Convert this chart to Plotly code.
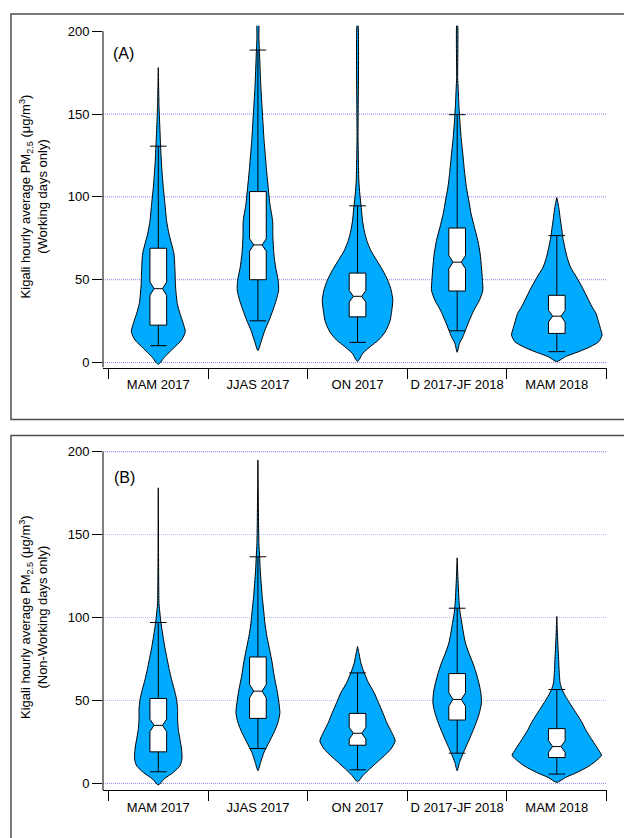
import plotly.graph_objects as go

# ---------------- data ----------------
categories = ["MAM 2017", "JJAS 2017", "ON 2017", "D 2017-JF 2018", "MAM 2018"]
y_ticks = [0, 50, 100, 150, 200]

# Panel A (working days) box statistics
a_q1 = [22.6, 50.0, 27.6, 43.2, 17.6]
a_median = [44.6, 71.0, 40.0, 60.6, 28.0]
a_q3 = [69.0, 103.2, 54.0, 81.2, 40.6]
a_lower = [10.2, 25.2, 12.2, 19.2, 6.6]
a_upper = [130.6, 188.6, 94.6, 149.6, 76.6]
a_notch = [4.0, 3.7, 3.5, 4.0, 3.5]

# Panel B (non-working days) box statistics
b_q1 = [19.0, 39.2, 23.0, 38.2, 15.6]
b_median = [35.0, 55.6, 30.2, 50.6, 22.2]
b_q3 = [51.2, 76.2, 42.2, 66.2, 33.0]
b_lower = [7.0, 21.0, 8.2, 18.2, 5.6]
b_upper = [97.0, 136.6, 66.6, 105.6, 56.6]
b_notch = [3.7, 4.0, 3.5, 4.0, 3.5]

# Violin density profiles (level, relative density)
a_mam17_y = [-1, 3.6, 8.6, 13.6, 18.6, 23.6, 29.6, 35.6, 45.6, 55.6, 65.6, 71.6, 77.6, 85.6, 95.6, 105.6, 115.6, 125.6, 135.6, 145.6, 155.6, 178]
a_mam17_d = [0, 6.7, 15, 23.3, 27, 25, 21.7, 19, 17.3, 16.7, 15.7, 13.3, 10.7, 8.3, 6.7, 5, 3.7, 2.7, 2, 1.3, 0.7, 0]
a_jjas17_y = [7.2, 13.6, 19.6, 25.2, 31.6, 37.6, 43.6, 49.6, 57.6, 65.6, 75.6, 85.6, 95.6, 105.6, 115.6, 125.6, 135.6, 145.6, 155.6, 165.6, 175.6, 185.6, 195.6, 205]
a_jjas17_d = [0, 3.7, 7, 11, 15, 18.3, 20.7, 20.3, 17.7, 16, 15, 14.7, 12, 10.3, 8.7, 7.3, 6, 5, 4, 3, 2.3, 1.7, 1, 0.7]
a_on17_y = [0.6, 5.6, 9.6, 13.6, 17.6, 21.6, 25.6, 31.6, 37.6, 43.6, 49.6, 55.6, 61.6, 67.6, 73.6, 79.6, 85.6, 93.6, 101.6, 109.6, 117.6, 135.6, 205]
a_on17_d = [0, 5.3, 12.7, 21, 26.7, 30.3, 32.7, 34.3, 35.3, 33.7, 30.3, 25.3, 19.3, 13.3, 9.3, 6.7, 5, 3.7, 2.3, 1.3, 1, 0.5, 0.3]
a_djf18_y = [6.2, 11.6, 15.6, 19.6, 25.6, 31.6, 37.6, 43.6, 49.6, 57.6, 65.6, 73.6, 81.6, 89.6, 97.6, 105.6, 115.6, 125.6, 135.6, 145.6, 155.6, 165.6, 171.6, 205]
a_djf18_d = [0, 2.3, 5.7, 8.3, 12.3, 16.7, 22.3, 25.7, 25.3, 24.3, 23, 20.7, 17.3, 14, 11.7, 9.3, 7.3, 5.7, 4, 2.7, 1.7, 1, 0.5, 0.3]
a_mam18_y = [0.6, 3.6, 6.6, 9.6, 12.6, 16.6, 20.6, 25.6, 29.6, 33.6, 39.6, 45.6, 51.6, 57.6, 63.6, 69.6, 75.6, 81.6, 87.6, 93.6, 99.6]
a_mam18_d = [0, 8.7, 22, 33.7, 42, 45.3, 43.7, 41.3, 39.3, 35.3, 30.3, 25.3, 19.7, 13.7, 10.3, 8, 6, 4.7, 3.3, 2, 0]

b_mam17_y = [-1, 2.6, 6.6, 10.6, 14.6, 20.6, 26.6, 32.6, 38.6, 44.6, 50.6, 56.6, 62.6, 68.6, 74.6, 80.6, 86.6, 92.6, 98.6, 104.6, 108.6, 178.2]
b_mam17_d = [0, 5.7, 15, 21.7, 23.7, 23.3, 21.7, 20, 19.3, 19.3, 18.3, 16, 13.3, 11, 9, 7, 5.3, 3.7, 2.3, 1.3, 0.7, 0]
b_jjas17_y = [7.6, 12.6, 18.6, 24.6, 30.6, 36.6, 42.6, 48.6, 56.6, 64.6, 72.6, 80.6, 88.6, 96.6, 104.6, 112.6, 120.6, 128.6, 136.6, 144.6, 154.6, 195]
b_jjas17_d = [0, 2.7, 6, 11, 16, 20, 22, 21, 19, 16.3, 14.3, 11.7, 9, 7, 5.7, 4.3, 3.3, 2.3, 1.7, 1, 0.7, 0]
b_on17_y = [1, 4.6, 8.6, 12.6, 16.6, 20.6, 25.6, 30.6, 36.6, 42.6, 48.6, 54.6, 60.6, 66.6, 72.6, 77.6, 82.6]
b_on17_d = [0, 5.3, 12, 19.3, 26.7, 33.3, 37.7, 34.3, 29.3, 25.3, 21, 16.7, 11, 6.7, 3.3, 1.7, 0]
b_djf18_y = [7.6, 12.6, 18.6, 24.6, 30.6, 36.6, 42.6, 48.6, 54.6, 60.6, 66.6, 72.6, 78.6, 84.6, 90.6, 96.6, 102.6, 108.6, 116.6, 124.6, 136]
b_djf18_d = [0, 2.3, 6.3, 10.7, 15, 19, 22.3, 24.3, 23.7, 21.7, 19, 15.7, 11.7, 8.3, 6.3, 4.7, 3, 2, 1.3, 0.7, 0]
b_mam18_y = [0.6, 3.6, 6.6, 10.6, 14.6, 17, 20.6, 24.6, 28.6, 32.6, 36.6, 40.6, 44.6, 48.6, 52.6, 56.6, 60.6, 68.6, 76.6, 84.6, 92.6, 100.6]
b_mam18_d = [0, 8.7, 20.3, 32.7, 41.3, 44.7, 41.3, 37, 32.7, 28.7, 25.3, 21.3, 17, 12.7, 8.7, 5.3, 3.3, 2.3, 1.7, 1, 0.5, 0]

panel_a_profiles = [(a_mam17_y, a_mam17_d), (a_jjas17_y, a_jjas17_d), (a_on17_y, a_on17_d),
                    (a_djf18_y, a_djf18_d), (a_mam18_y, a_mam18_d)]
panel_b_profiles = [(b_mam17_y, b_mam17_d), (b_jjas17_y, b_jjas17_d), (b_on17_y, b_on17_d),
                    (b_djf18_y, b_djf18_d), (b_mam18_y, b_mam18_d)]

# ---------------- styling / layout ----------------
W, H = 632, 838
OFF = 8  # default page body margin in the browser
VIOLIN_SCALE = 1 / 99.7
VIOLIN_FILL = "#00aaff"
FONT = "Liberation Sans, Arial, sans-serif"
positions = list(range(len(categories)))
boundaries = [p - 0.5 for p in positions] + [positions[-1] + 0.5]
XRANGE = [-0.555, 4.5]
YRANGE_A = [-3, 203.3]
YRANGE_B = [-4, 203.3]


def px_x(p):
    return (p - OFF) / W


def px_y(p):
    return 1 - (p - OFF) / H


fig = go.Figure()


def add_panel(profiles, q1, med, q3, lo, hi, notch, xa, ya, xb, yb):
    for pos, (yy, dd) in zip(positions, profiles):
        xs = [pos + d * VIOLIN_SCALE for d in dd] + [pos - d * VIOLIN_SCALE for d in reversed(dd)]
        ys = list(yy) + list(reversed(yy))
        fig.add_trace(go.Scatter(
            x=xs, y=ys, mode="lines", fill="toself", fillcolor=VIOLIN_FILL,
            line=dict(color="black", width=1, shape="spline", smoothing=0.6),
            xaxis=xa, yaxis=ya, hoverinfo="skip", showlegend=False))
    fig.add_trace(go.Box(
        x=positions, q1=q1, median=med, q3=q3, lowerfence=lo, upperfence=hi,
        notchspan=notch, notched=True, notchwidth=0.25, width=0.1675, whiskerwidth=1,
        fillcolor="white", line=dict(color="black", width=1), boxpoints=False,
        xaxis=xb, yaxis=yb, showlegend=False))


add_panel(panel_a_profiles, a_q1, a_median, a_q3, a_lower, a_upper, a_notch, "x", "y", "x3", "y3")
add_panel(panel_b_profiles, b_q1, b_median, b_q3, b_lower, b_upper, b_notch, "x2", "y2", "x4", "y4")

xdom = [px_x(103), px_x(606.6)]
ydom_a = [px_y(367.7), px_y(23.8)]
ydom_b = [px_y(792.7), px_y(446.8)]

xaxis_common = dict(
    domain=xdom, range=XRANGE, tickmode="array", tickvals=positions, ticktext=categories,
    ticks="outside", ticklen=5, tickcolor="rgba(0,0,0,0)",
    minor=dict(tickmode="array", tickvals=boundaries, ticks="outside", ticklen=10,
               tickcolor="black", tickwidth=1),
    showline=True, linecolor="black", linewidth=1, showgrid=False, zeroline=False,
    tickfont=dict(family=FONT, size=13, color="black"), fixedrange=True,
)
yaxis_common = dict(
    tickmode="array", tickvals=y_ticks, ticks="outside", ticklen=10, tickcolor="black",
    tickwidth=1, showline=False, showgrid=False, zeroline=False,
    tickfont=dict(family=FONT, size=13, color="black"), fixedrange=True,
)

fig.update_layout(
    width=W, height=H, margin=dict(l=0, r=0, t=0, b=0),
    paper_bgcolor="white", plot_bgcolor="rgba(0,0,0,0)", showlegend=False,
    boxmode="overlay",
    xaxis=dict(anchor="y", **xaxis_common),
    yaxis=dict(anchor="x", domain=ydom_a, range=YRANGE_A, **yaxis_common),
    xaxis2=dict(anchor="y2", **xaxis_common),
    yaxis2=dict(anchor="x2", domain=ydom_b, range=YRANGE_B, **yaxis_common),
    # overlay axes so the box plots are drawn above the violins
    xaxis3=dict(overlaying="x", anchor="y3", range=XRANGE, visible=False, fixedrange=True),
    yaxis3=dict(overlaying="y", anchor="x3", range=YRANGE_A, visible=False, fixedrange=True),
    xaxis4=dict(overlaying="x2", anchor="y4", range=XRANGE, visible=False, fixedrange=True),
    yaxis4=dict(overlaying="y2", anchor="x4", range=YRANGE_B, visible=False, fixedrange=True),
)

shapes = []
# panel frames
shapes.append(dict(type="rect", xref="paper", yref="paper", x0=px_x(11), x1=1.1,
                   y0=px_y(420), y1=px_y(12), line=dict(color="#4d4d4d", width=1.5), layer="below"))
shapes.append(dict(type="rect", xref="paper", yref="paper", x0=px_x(11), x1=1.1,
                   y0=-0.1, y1=px_y(436), line=dict(color="#4d4d4d", width=1.5), layer="below"))

# dotted grid lines
grid_a = [0, 50, 100, 150]
grid_b = [0, 50, 100, 150, 200]
for v in grid_a:
    shapes.append(dict(type="line", xref="x domain", yref="y", x0=0, x1=1, y0=v, y1=v,
                       line=dict(color="#8484ff", width=1, dash="1px,1px"), layer="below"))
for v in grid_b:
    col = "#8484ff" if v in (0, 200) else "#b8b8f4"
    shapes.append(dict(type="line", xref="x2 domain", yref="y2", x0=0, x1=1, y0=v, y1=v,
                       line=dict(color=col, width=1, dash="1px,1px"), layer="below"))

# y-axis lines (from x axis up to 200)
shapes.append(dict(type="line", xref="x domain", yref="y", x0=0, x1=0, y0=YRANGE_A[0], y1=200,
                   line=dict(color="black", width=1)))
shapes.append(dict(type="line", xref="x2 domain", yref="y2", x0=0, x1=0, y0=YRANGE_B[0], y1=200,
                   line=dict(color="black", width=1)))
fig.update_layout(shapes=shapes)

title_a = "Kigali hourly average PM<sub>2.5</sub> (μg/m<sup>3</sup>)<br>(Working days only)"
title_b = "Kigali hourly average PM<sub>2.5</sub> (μg/m<sup>3</sup>)<br>(Non-Working days only)"
annotations = [
    dict(text="(A)", xref="paper", yref="y", x=px_x(111), y=186.6, xanchor="left", yanchor="middle",
         showarrow=False, font=dict(family=FONT, size=16, color="black")),
    dict(text="(B)", xref="paper", yref="y2", x=px_x(112), y=184.6, xanchor="left", yanchor="middle",
         showarrow=False, font=dict(family=FONT, size=16, color="black")),
    dict(text=title_a, xref="paper", yref="y", x=px_x(33.5), y=100, textangle=-90,
         xanchor="center", yanchor="middle", showarrow=False,
         font=dict(family=FONT, size=13, color="black")),
    dict(text=title_b, xref="paper", yref="y2", x=px_x(33.5), y=100, textangle=-90,
         xanchor="center", yanchor="middle", showarrow=False,
         font=dict(family=FONT, size=13, color="black")),
]
fig.update_layout(annotations=annotations)

fig.write_html("out.html")
